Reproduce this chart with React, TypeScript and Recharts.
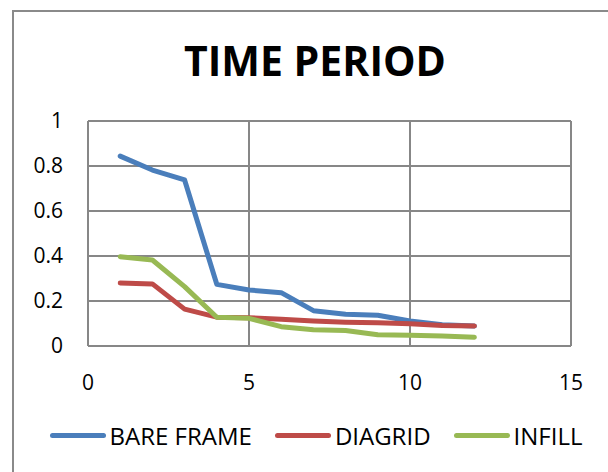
import { LineChart, Line, XAxis, YAxis, CartesianGrid, Legend } from 'recharts';

const periods = [1, 2, 3, 4, 5, 6, 7, 8, 9, 10, 11, 12];
const bareFrame = [0.844, 0.782, 0.738, 0.274, 0.249, 0.237, 0.157, 0.141, 0.137, 0.111, 0.094, 0.089];
const diagrid = [0.28, 0.276, 0.164, 0.128, 0.126, 0.119, 0.111, 0.106, 0.103, 0.099, 0.091, 0.089];
const infill = [0.397, 0.382, 0.264, 0.128, 0.123, 0.086, 0.072, 0.069, 0.05, 0.048, 0.044, 0.039];
const xTicks = [0, 5, 10, 15];
const yTicks = [0, 0.2, 0.4, 0.6, 0.8, 1];

const data = periods.map((p, i) => ({
  period: p,
  bare: bareFrame[i],
  diagrid: diagrid[i],
  infill: infill[i],
}));

const SERIES = [
  { key: 'bare', name: 'BARE FRAME', color: '#4a7ebb' },
  { key: 'diagrid', name: 'DIAGRID', color: '#be4b48' },
  { key: 'infill', name: 'INFILL', color: '#98b954' },
];

const FONT = '"Open Sans", sans-serif';
const GRID = '#878787';

function LegendContent() {
  return (
    <div style={{ display: 'flex', justifyContent: 'center', alignItems: 'center', fontFamily: FONT, fontSize: 24, color: '#000' }}>
      {SERIES.map((s, i) => (
        <div key={s.key} style={{ display: 'flex', alignItems: 'center', marginRight: i < SERIES.length - 1 ? 23 : 0 }}>
          <div style={{ width: 56, height: 5, borderRadius: 3, background: s.color, marginRight: 4 }} />
          <span>{s.name}</span>
        </div>
      ))}
    </div>
  );
}

export default function App() {
  return (
    <div style={{ position: 'fixed', left: 0, top: 0, width: 608, height: 472, overflow: 'hidden', background: '#fff' }}>
      <div style={{ position: 'absolute', left: 12, top: 10, width: 640, height: 500, border: '2px solid #8a8a8a' }} />
      <div style={{ position: 'absolute', left: 0, top: 33, width: 630, textAlign: 'center', fontFamily: FONT, fontWeight: 700, fontSize: 41, lineHeight: '54px', color: '#000' }}>
        TIME PERIOD
      </div>
      <LineChart width={608} height={472} data={data} margin={{ top: 121, right: 37, left: 0, bottom: 96 }}>
        <CartesianGrid stroke={GRID} strokeWidth={2} />
        <XAxis
          dataKey="period"
          type="number"
          domain={[0, 15]}
          ticks={xTicks}
          height={30}
          tickLine={false}
          tickMargin={23}
          axisLine={{ stroke: GRID, strokeWidth: 2 }}
          tick={{ fill: '#000', fontSize: 21, fontFamily: FONT }}
        />
        <YAxis
          type="number"
          domain={[0, 1]}
          ticks={yTicks}
          width={88}
          tickLine={false}
          tickMargin={19}
          axisLine={{ stroke: GRID, strokeWidth: 2 }}
          tick={{ fill: '#000', fontSize: 21, fontFamily: FONT }}
        />
        <Legend
          layout="horizontal"
          verticalAlign="middle"
          content={<LegendContent />}
          wrapperStyle={{ position: 'absolute', top: 419, left: 12, width: 608 }}
        />
        {SERIES.map((s) => (
          <Line
            key={s.key}
            type="linear"
            dataKey={s.key}
            name={s.name}
            stroke={s.color}
            strokeWidth={5}
            strokeLinejoin="round"
            strokeLinecap="round"
            dot={false}
            activeDot={false}
            isAnimationActive={false}
          />
        ))}
      </LineChart>
    </div>
  );
}
